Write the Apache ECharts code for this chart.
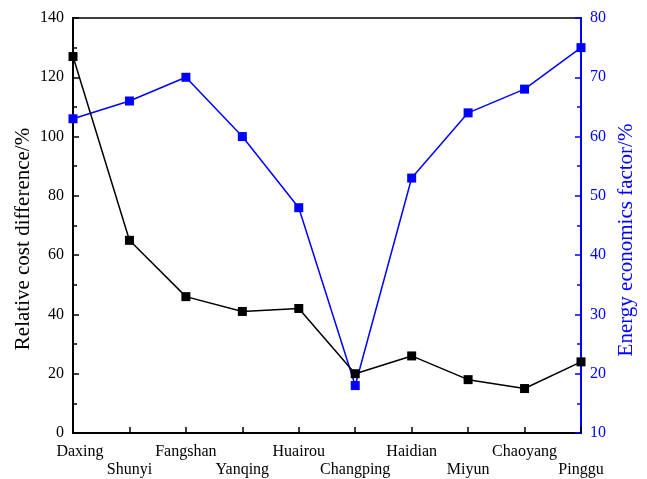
<!DOCTYPE html>
<html><head><meta charset="utf-8">
<script src="https://cdn.jsdelivr.net/npm/echarts@6/dist/echarts.min.js"></script>
<style>html,body{margin:0;padding:0;background:#fff}#c{width:647px;height:479px}</style>
</head><body><div id="c"></div>
<script>
const categories = ['Daxing','Shunyi','Fangshan','Yanqing','Huairou','Changping','Haidian','Miyun','Chaoyang','Pinggu'];
const costDiff = [127, 65, 46, 41, 42, 20, 26, 18, 15, 24];
const energyFactor = [63, 66, 70, 60, 48, 18, 53, 64, 68, 75];
const leftTicks = [0, 140, 20];
const rightTicks = [10, 80, 10];
const leftTitle = 'Relative cost difference/%';
const rightTitle = 'Energy economics factor/%';

const font = 'Liberation Serif';
const chart = echarts.init(document.getElementById('c'), null, {renderer:'canvas'});
chart.setOption({
  animation:false,
  grid:{left:73,right:66,top:18,bottom:46,show:true,borderColor:'#000',borderWidth:1.5,backgroundColor:'transparent'},
  graphic:[
    {type:'text',x:23,y:239,rotation:Math.PI/2,
     style:{text:leftTitle,fill:'#000',font:'21px "Liberation Serif"',align:'center',verticalAlign:'middle'}},
    {type:'text',x:626,y:240,rotation:Math.PI/2,
     style:{text:rightTitle,fill:'#0000ff',font:'21px "Liberation Serif"',align:'center',verticalAlign:'middle'}}
  ],
  xAxis:{type:'category',data:categories,boundaryGap:false,
    axisLine:{lineStyle:{color:'#000',width:2}},
    axisTick:{inside:true,length:6,lineStyle:{color:'#000',width:1.5}},
    axisLabel:{color:'#000',fontFamily:font,fontSize:16,margin:10,interval:0,lineHeight:18,
      formatter:(v,i)=> i===0 ? '{a|'+v+'}' : (i%2 ? '\n'+v : v),
      rich:{a:{fontFamily:font,fontSize:16,color:'#000',padding:[0,0,0,14],lineHeight:18}}},
    splitLine:{show:false}},
  yAxis:[
    {type:'value',min:leftTicks[0],max:leftTicks[1],interval:leftTicks[2],position:'left',
     axisLine:{show:true,lineStyle:{color:'#000',width:2}},
     axisTick:{show:true,inside:true,length:6,lineStyle:{color:'#000',width:1.5}},
     minorTick:{show:true,splitNumber:2,length:4,lineStyle:{color:'#000',width:1.5}},
     axisLabel:{color:'#000',fontFamily:font,fontSize:16,margin:9},
     splitLine:{show:false}},
    {type:'value',min:rightTicks[0],max:rightTicks[1],interval:rightTicks[2],position:'right',
     axisLine:{show:true,lineStyle:{color:'#0000ff',width:2}},
     axisTick:{show:true,inside:true,length:6,lineStyle:{color:'#0000ff',width:1.5}},
     minorTick:{show:true,splitNumber:2,length:4,lineStyle:{color:'#0000ff',width:1.5}},
     axisLabel:{color:'#0000ff',fontFamily:font,fontSize:16,margin:9},
     splitLine:{show:false}}
  ],
  series:[
    {type:'line',data:costDiff,yAxisIndex:0,symbol:'rect',symbolSize:9,
     lineStyle:{color:'#000',width:1.5},itemStyle:{color:'#000'},z:3},
    {type:'line',data:energyFactor,yAxisIndex:1,symbol:'rect',symbolSize:9,
     lineStyle:{color:'#0000ff',width:1.5},itemStyle:{color:'#0000ff'},z:2}
  ]
});
</script></body></html>
